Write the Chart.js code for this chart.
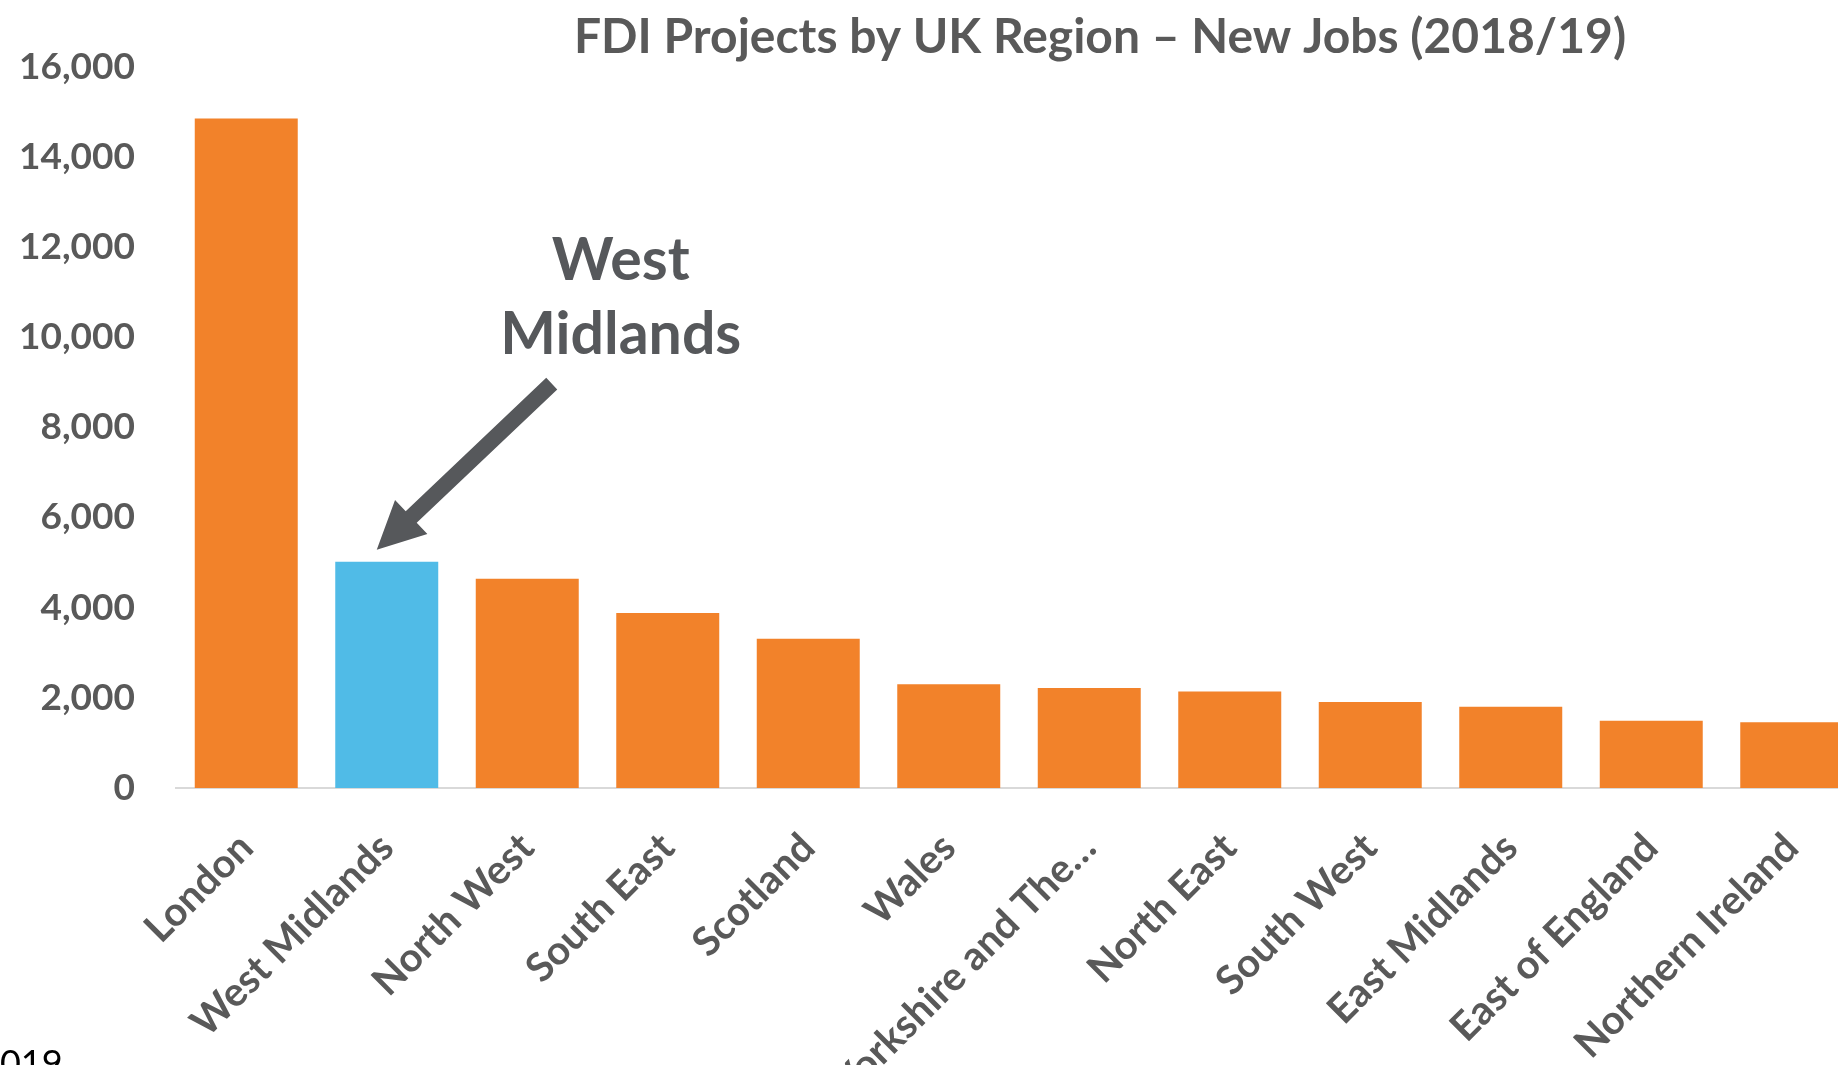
<!DOCTYPE html>
<html>
<head>
<meta charset="utf-8">
<title>FDI Projects by UK Region – New Jobs (2018/19)</title>
<script src="https://cdn.jsdelivr.net/npm/chart.js@4/dist/chart.umd.min.js"></script>
<style>
  html, body { margin: 0; padding: 0; background: #fff; overflow: hidden; }
  #wrap { width: 1838px; height: 1065px; overflow: hidden; position: relative; }
  canvas { display: block; }
</style>
</head>
<body>
<div id="wrap"><canvas id="chart" width="2200" height="1065"></canvas></div>
<script>
// Data
const regions = [
  'London', 'West Midlands', 'North West', 'South East', 'Scotland', 'Wales',
  'Yorkshire and The…', 'North East', 'South West', 'East Midlands',
  'East of England', 'Northern Ireland'
];
const newJobs = [14850, 5020, 4640, 3880, 3310, 2300, 2220, 2140, 1910, 1800, 1490, 1460];
const yTicks = [0, 2000, 4000, 6000, 8000, 10000, 12000, 14000, 16000];
const highlight = 'West Midlands';
const sourceNote = '2019';

const orange = '#f2822a';
const blue = '#50bbe7';
const grey = '#595959';
const arrowGrey = '#56585b';
const font = 'Lato';

// Arrow + label pointing at the highlighted bar
const annotation = {
  id: 'annotation',
  afterDatasetsDraw(chart) {
    const { ctx, scales: { x, y } } = chart;
    const i = regions.indexOf(highlight);
    const bx = x.getPixelForValue(i);
    const by = y.getPixelForValue(newJobs[i]);

    const tipX = bx - 10, tipY = by - 12;
    const tailX = bx + 165, tailY = by - 178;
    const len = Math.hypot(tailX - tipX, tailY - tipY);
    const ang = Math.atan2(tailY - tipY, tailX - tipX);

    ctx.save();
    ctx.fillStyle = arrowGrey;
    ctx.translate(tipX, tipY);
    ctx.rotate(ang);
    ctx.beginPath();
    ctx.moveTo(0, 0);
    ctx.lineTo(47.5, -23.5);
    ctx.lineTo(47.5, -8);
    ctx.lineTo(len, -8);
    ctx.lineTo(len, 8);
    ctx.lineTo(47.5, 8);
    ctx.lineTo(47.5, 23.5);
    ctx.closePath();
    ctx.fill();
    ctx.restore();

    ctx.save();
    ctx.fillStyle = arrowGrey;
    ctx.font = 'bold 59px ' + font;
    ctx.textAlign = 'center';
    ctx.textBaseline = 'alphabetic';
    ctx.fillText('West', bx + 234, by - 282);
    ctx.fillText('Midlands', bx + 234, by - 208);
    ctx.restore();
  },
  afterDraw(chart) {
    // cut-off note at bottom left
    const ctx = chart.ctx;
    ctx.save();
    ctx.fillStyle = '#000';
    ctx.font = '36px ' + font;
    ctx.textAlign = 'left';
    ctx.textBaseline = 'alphabetic';
    ctx.fillText(sourceNote, -21, 1076);
    ctx.restore();
  }
};

const ctx = document.getElementById('chart').getContext('2d');
new Chart(ctx, {
  type: 'bar',
  data: {
    labels: regions,
    datasets: [{
      label: 'New Jobs',
      data: newJobs,
      backgroundColor: regions.map(r => r === highlight ? blue : orange),
      borderWidth: 0,
      categoryPercentage: 1,
      barPercentage: 0.733
    }]
  },
  options: {
    responsive: false,
    animation: false,
    layout: { padding: 0 },
    plugins: {
      legend: { display: false },
      tooltip: { enabled: false },
      title: {
        display: true,
        text: 'FDI Projects by UK Region – New Jobs (2018/19)',
        color: grey,
        font: { family: font, size: 48, weight: 'bold' },
        padding: { top: 9, bottom: 0 }
      }
    },
    scales: {
      x: {
        grid: { display: false, drawTicks: false },
        border: { display: true, color: '#d9d9d9', width: 2 },
        ticks: {
          color: grey,
          font: { family: font, size: 40, weight: 'bold' },
          maxRotation: 45,
          minRotation: 45,
          autoSkip: false,
          padding: 36
        },
        afterFit: (scale) => { scale.height = 277; }
      },
      y: {
        min: 0,
        max: 16000,
        grid: { display: false, drawTicks: false },
        border: { display: false },
        afterBuildTicks: (scale) => { scale.ticks = yTicks.map(v => ({ value: v })); },
        ticks: {
          color: grey,
          font: { family: font, size: 37, weight: 'bold' },
          padding: 41,
          callback: (v) => v.toLocaleString('en-GB')
        },
        afterFit: (scale) => { scale.width = 176; }
      },
      // empty spacer on the right: the plot runs past the cropped edge
      spacer: {
        type: 'linear',
        position: 'right',
        grid: { display: false, drawTicks: false },
        border: { display: false },
        ticks: { display: false },
        afterFit: (scale) => { scale.width = 338; }
      }
    }
  },
  plugins: [annotation]
});
</script>
</body>
</html>
